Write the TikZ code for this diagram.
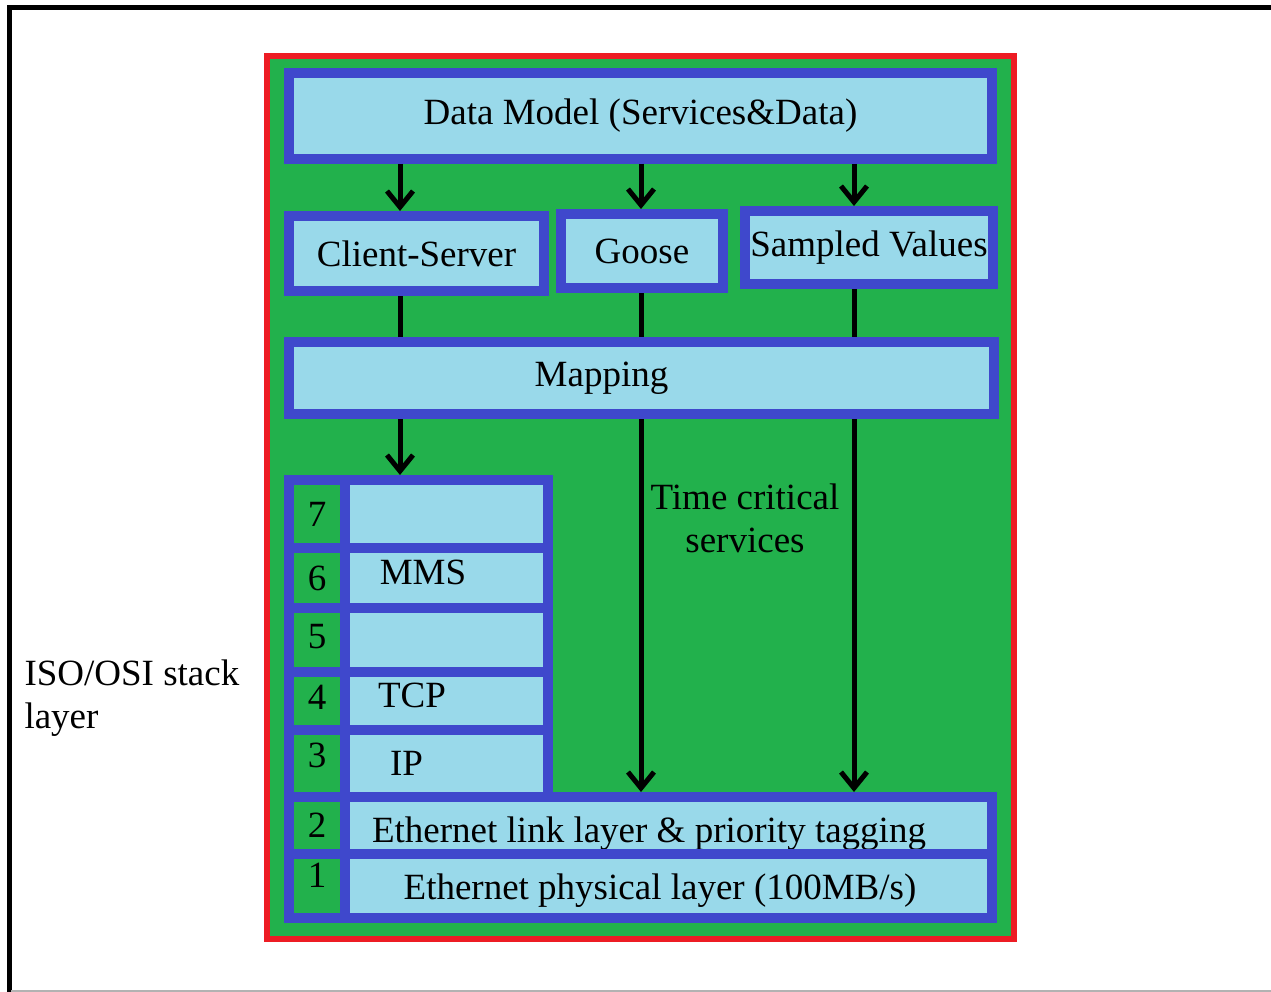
\documentclass[tikz,border=0pt]{standalone}
\usepackage{fontspec}
\setmainfont{Liberation Serif}
\usetikzlibrary{arrows.meta,positioning}
\definecolor{Frame}{HTML}{ED1C24}
\definecolor{Field}{HTML}{22B14C}
\definecolor{Edge}{HTML}{3F48CC}
\definecolor{Sky}{HTML}{99D9EA}
\newcommand\lblfont{\fontsize{37}{43}\selectfont}

\begin{document}
\begin{tikzpicture}[x=1pt,y=-1pt,
  every node/.style={font=\lblfont,align=center},
  blk/.style={draw=Edge,fill=Sky,line width=10pt,inner sep=0pt},
  num/.style={draw=Edge,fill=Field,line width=10pt,inner sep=0pt,minimum width=56pt},
  cell/.style={blk,minimum width=203pt},
  wide/.style={blk,minimum width=647pt},
  arr/.style={line width=5pt,-{Straight Barb[length=16pt,width=26pt,line width=5pt]}}]
\useasboundingbox (0,0) rectangle (1271,992);
% frame, cut at the right edge
\draw[line width=5pt] (9,992) -- (9,7.5) -- (1271,7.5);
\draw[black!30,line width=1.5pt] (11,991) -- (1271,991);
\draw[draw=Frame,fill=Field,line width=6pt] (267,56) rectangle (1014,938.5);
% upper blocks
\node[blk,minimum width=703pt,minimum height=86pt] (dm) at (640.5,116) {Data Model (Services\&Data)};
\node[blk,minimum width=255pt,minimum height=75pt] (cs) at (416.5,253.5) {Client-Server};
\node[blk,minimum width=162pt,minimum height=74pt] (gs) at (642,251) {Goose};
\node[blk,minimum width=248pt,minimum height=73pt] (sv) at (869,247.5) {Sampled Values};
\node[blk,minimum width=705pt,minimum height=72pt,label={[xshift=-40pt]center:Mapping}] (mp) at (641.5,378) {};
% ISO/OSI stack
\node[num,minimum height=68pt] (n7) at (317,514) {7};
\node[cell,minimum height=68pt,right=-10pt of n7] (l7) {};
\node[num,minimum height=60pt] (n6) at (317,578) {6};
\node[cell,minimum height=60pt,right=-10pt of n6,label={[xshift=-23.5pt,yshift=6pt]center:MMS}] (l6) {};
\node[num,minimum height=64pt,text depth=8pt] (n5) at (317,640) {5};
\node[cell,minimum height=64pt,right=-10pt of n5] (l5) {};
\node[num,minimum height=58pt,text depth=8pt] (n4) at (317,701) {4};
\node[cell,minimum height=58pt,right=-10pt of n4,label={[xshift=-34.5pt,yshift=6pt]center:TCP}] (l4) {};
\node[num,minimum height=67pt,text depth=16pt] (n3) at (317,763.5) {3};
\node[cell,minimum height=67pt,right=-10pt of n3,label={[xshift=-40pt]center:IP}] (l3) {};
\node[num,minimum height=56.5pt] (n2) at (317,825.25) {2};
\node[wide,minimum height=56.5pt,right=-10pt of n2,label={[xshift=-19.5pt,yshift=-8pt]center:Ethernet link layer \& priority tagging}] (l2) {};
\node[num,minimum height=64.5pt,text depth=20pt] (n1) at (317,885.75) {1};
\node[wide,minimum height=64.5pt,right=-10pt of n1,label={[xshift=-8.5pt,yshift=-5pt]center:Ethernet physical layer (100MB/s)}] (l1) {};
% texts
\node (tc) at (745,518) {Time critical\\services};
\node[align=left,anchor=west] (iso) at (21,698) {ISO/OSI stack\\layer};
% connectors
\coordinate (c1) at (400,0);
\coordinate (c2) at (641,0);
\coordinate (c3) at (854,0);
\draw[arr] (dm.south -| c1) -- (cs.north -| c1);
\draw[arr] (dm.south -| c2) -- (gs.north -| c2);
\draw[arr] (dm.south -| c3) -- (sv.north -| c3);
\draw[line width=5pt] (cs.south -| c1) -- (mp.north -| c1);
\draw[line width=5pt] (gs.south -| c2) -- (mp.north -| c2);
\draw[line width=5pt] (sv.south -| c3) -- (mp.north -| c3);
\draw[arr] (mp.south -| c1) -- (l7.north -| c1);
\draw[arr] (mp.south -| c2) -- (l2.north -| c2);
\draw[arr] (mp.south -| c3) -- (l2.north -| c3);
\end{tikzpicture}
\end{document}
